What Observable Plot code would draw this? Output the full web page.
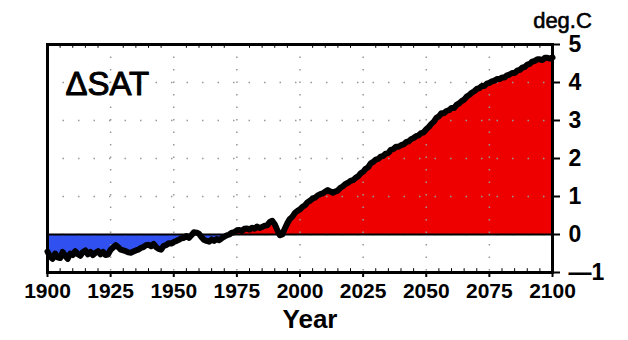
<!DOCTYPE html>
<html><head><meta charset="utf-8">
<script src="https://cdn.jsdelivr.net/npm/d3@7"></script>
<script src="https://cdn.jsdelivr.net/npm/@observablehq/plot@0.6"></script>
<style>
body{margin:0;background:#fff}
#chart svg{font-family:"Liberation Sans",Arial,sans-serif}
</style>
</head><body><div id="chart"></div>
<script>
const firstYear = 1900;
const satAnomaly = [
  -0.45,-0.58,-0.64,-0.50,-0.60,-0.62,-0.46,-0.56,-0.64,-0.50,
  -0.54,-0.44,-0.52,-0.56,-0.46,-0.42,-0.52,-0.46,-0.54,-0.48,
  -0.44,-0.52,-0.46,-0.54,-0.52,-0.40,-0.34,-0.28,-0.33,-0.40,
  -0.42,-0.44,-0.47,-0.48,-0.45,-0.42,-0.40,-0.35,-0.33,-0.28,
  -0.27,-0.31,-0.25,-0.33,-0.38,-0.40,-0.30,-0.28,-0.23,-0.24,
  -0.20,-0.17,-0.14,-0.10,-0.09,-0.04,-0.09,-0.02,0.06,0.05,
  0.02,-0.07,-0.14,-0.17,-0.19,-0.13,-0.17,-0.12,-0.15,-0.10,
  -0.06,-0.02,0.00,0.05,0.06,0.11,0.12,0.09,0.15,0.16,
  0.13,0.18,0.15,0.21,0.17,0.20,0.23,0.24,0.33,0.36,
  0.27,0.12,-0.02,0.00,0.16,0.30,0.41,0.47,0.57,0.62,
  0.66,0.73,0.77,0.85,0.89,0.95,0.97,1.03,1.06,1.08,
  1.13,1.17,1.13,1.10,1.13,1.16,1.23,1.27,1.33,1.36,
  1.41,1.43,1.49,1.53,1.61,1.65,1.73,1.77,1.87,1.91,
  1.97,1.99,2.05,2.07,2.13,2.15,2.23,2.25,2.31,2.31,
  2.35,2.37,2.43,2.45,2.51,2.54,2.59,2.61,2.67,2.69,
  2.77,2.83,2.91,2.97,3.07,3.11,3.19,3.19,3.25,3.27,
  3.33,3.33,3.41,3.45,3.51,3.55,3.63,3.67,3.73,3.77,
  3.83,3.85,3.91,3.91,3.97,3.99,4.03,4.05,4.09,4.09,
  4.13,4.13,4.19,4.21,4.25,4.25,4.31,4.33,4.39,4.41,
  4.47,4.49,4.55,4.57,4.61,4.61,4.59,4.65,4.65,4.63,
  4.66
];
const xTicks = [1900, 1925, 1950, 1975, 2000, 2025, 2050, 2075, 2100];
const yTicks = [-1, 0, 1, 2, 3, 4, 5];
const minorXTicks = [1905,1910,1915,1920,1930,1935,1940,1945,1955,1960,1965,1970,1980,1985,1990,1995,2005,2010,2015,2020,2030,2035,2040,2045,2055,2060,2065,2070,2080,2085,2090,2095];
const titleText = "ΔSAT";
const unitText = "deg.C";
const xLabel = "Year";

const data = satAnomaly.map((v, i) => ({year: firstYear + i, v}));

const chart = Plot.plot({
  width: 628, height: 340,
  marginLeft: 47, marginRight: 76, marginTop: 44, marginBottom: 68,
  x: {domain: [1900, 2100]},
  y: {domain: [-1, 5]},
  marks: [
    Plot.areaY(data, {x: "year", y1: 0, y2: d => Math.max(d.v, 0), fill: "#ee0000"}),
    Plot.areaY(data, {x: "year", y1: 0, y2: d => Math.min(d.v, 0), fill: "#3050f0"}),
    Plot.ruleX(xTicks, {stroke: "#999", strokeWidth: 1.5, strokeDasharray: "1.5,11"}),
    Plot.ruleY(yTicks, {stroke: "#999", strokeWidth: 1.5, strokeDasharray: "1.5,14"}),
    Plot.ruleY([0], {stroke: "black", strokeWidth: 2}),
    Plot.line(data, {x: "year", y: "v", stroke: "black", strokeWidth: 6, strokeLinejoin: "round"}),
    Plot.ruleX(minorXTicks, {y1: 5, y2: 4.9, stroke: "black", strokeWidth: 1}),
    Plot.ruleX(minorXTicks, {y1: -1, y2: -0.9, stroke: "black", strokeWidth: 1}),
    Plot.frame({stroke: "black", strokeWidth: 3}),
    Plot.axisX(xTicks, {anchor: "bottom", tickSize: 5, tickPadding: 6, tickFormat: d => String(d), fontSize: 21, fontWeight: "bold", label: null, fill: "black", strokeWidth: 2}),
    Plot.axisY(yTicks, {anchor: "right", tickSize: 7, tickPadding: 9, tickFormat: d => d < 0 ? "—" + Math.abs(d) : String(d), fontSize: 23, fontWeight: "bold", label: null, fill: "black", strokeWidth: 2}),
    Plot.text([titleText], {frameAnchor: "top-left", dx: 18, dy: 27, fontSize: 33, textAnchor: "start", fill: "black", stroke: "black", strokeWidth: 1}),
    Plot.text([unitText], {frameAnchor: "top-right", dx: 10, dy: -32, fontSize: 22, textAnchor: "middle", fill: "black", stroke: "black", strokeWidth: 0.6}),
    Plot.text([xLabel], {frameAnchor: "bottom", dx: 10, dy: 55, fontSize: 26, fontWeight: "bold", fill: "black"})
  ]
});
document.getElementById("chart").appendChild(chart);
</script>
</body></html>
